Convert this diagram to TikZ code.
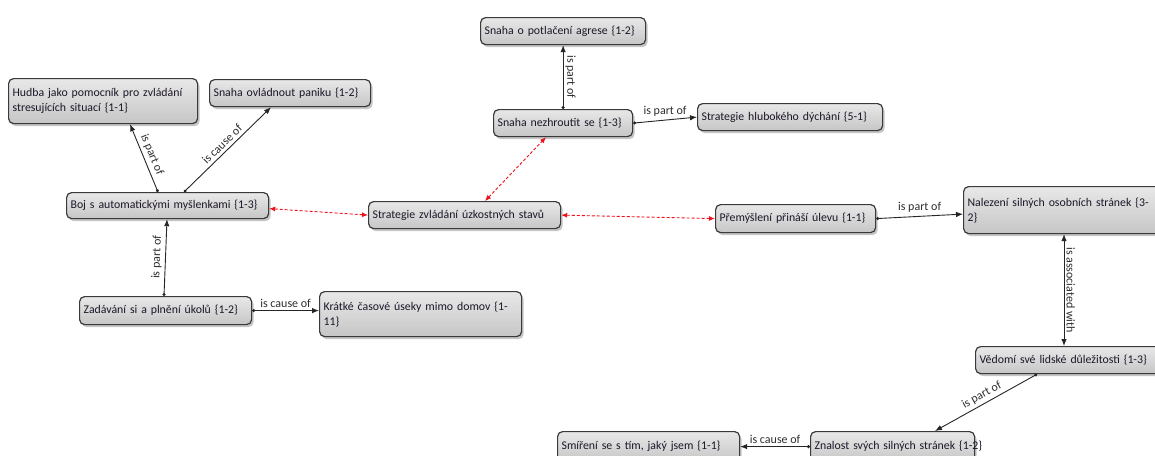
\documentclass[tikz,border=0pt]{standalone}
\usepackage{fontspec}
\setmainfont{Carlito}
\usetikzlibrary{arrows.meta,shadows,calc}
\definecolor{boxline}{HTML}{3A3A3A}
\definecolor{boxtop}{HTML}{E8E8E8}
\definecolor{boxbot}{HTML}{C6C6C6}
\definecolor{txt}{HTML}{1C1628}
\definecolor{lbl}{HTML}{2E2E2E}
\definecolor{assoc}{HTML}{F0101A}
\begin{document}
\begin{tikzpicture}[x=1pt,y=-1pt,
  concept/.style={draw=boxline, line width=1.2pt, rounded corners=5pt,
    top color=boxtop, bottom color=boxbot,
    drop shadow={opacity=0.45, shadow xshift=2pt, shadow yshift=-2.5pt},
    inner xsep=4pt, inner ysep=2pt, align=left, anchor=north west,
    font=\fontsize{11.8}{15}\selectfont, text=txt},
  link/.style={draw=black!85, line width=0.9pt,
    {Circle[length=3pt]}-{Latex[length=7pt,width=5.5pt]}},
  twoway/.style={draw=black!85, line width=0.9pt,
    {Latex[length=7pt,width=5.5pt]}-{Latex[length=7pt,width=5.5pt]}},
  assoclink/.style={draw=assoc, line width=0.9pt, dash pattern=on 3pt off 2pt,
    {Latex[length=6pt,width=5pt]}-{Latex[length=6pt,width=5pt]}},
  rel/.style={font=\fontsize{12}{14}\selectfont, text=lbl, inner sep=3pt}
]
\useasboundingbox (0,0) rectangle (1155,455);
\fill[white] (0,0) rectangle (1155,455);
\clip (0,0) rectangle (1155,455);

% concepts
\node[concept, text width=157pt, minimum height=27pt] (agrese) at (480,17) {Snaha o potlačení agrese \{1-2\}};
\node[concept, text width=181pt, minimum height=45pt] (hudba) at (8,78) {Hudba jako pomocník pro zvládání\\stresujících situací \{1-1\}};
\node[concept, text width=153pt, minimum height=27pt] (panika) at (209,79) {Snaha ovládnout paniku \{1-2\}};
\node[concept, text width=131pt, minimum height=27pt] (nezhr) at (493,109) {Snaha nezhroutit se \{1-3\}};
\node[concept, text width=177pt, minimum height=27pt] (dych) at (697,103) {Strategie hlubokého dýchání \{5-1\}};
\node[concept, text width=194pt, minimum height=26pt] (boj) at (66,192) {Boj s automatickými myšlenkami \{1-3\}};
\node[concept, text width=184pt, minimum height=27pt] (zvl) at (368,201) {Strategie zvládání úzkostných stavů};
\node[concept, text width=152pt, minimum height=28pt] (prem) at (715,204) {Přemýšlení přináší úlevu \{1-1\}};
\node[concept, text width=192pt, minimum height=47pt] (nalez) at (963,186) {Nalezení silných osobních stránek \{3-\\2\}};
\node[concept, text width=164pt, minimum height=28pt] (zad) at (79,296) {Zadávání si a plnění úkolů \{1-2\}};
\node[concept, text width=194pt, minimum height=45pt] (kratke) at (319,291) {Krátké časové úseky mimo domov \{1-\\11\}};
\node[concept, text width=190pt, minimum height=27pt] (vedomi) at (975,346) {Vědomí své lidské důležitosti \{1-3\}};
\node[concept, text width=156pt, minimum height=30pt] (znalost) at (810,431) {\mbox{Znalost svých silných stránek \{1-2\}}};
\node[concept, text width=174pt, minimum height=30pt] (smireni) at (557,431) {Smíření se s tím, jaký jsem \{1-1\}};

% labelled links
\draw[link] ([xshift=92pt]boj.north west) -- node[rel, sloped, above] {is part of} ([xshift=122pt]hudba.south west);
\draw[link] ([xshift=118pt]boj.north west) -- node[rel, sloped, above] {is cause of} ([xshift=62pt]panika.south west);
\draw[link] ([xshift=85pt]zad.north west) -- node[rel, sloped, above] {is part of} ([xshift=101pt]boj.south west);
\draw[link] (zad.east) -- node[rel, above] {is cause of} (zad.east -| kratke.west);
\draw[link] (nezhr.north) -- node[rel, rotate=-90, anchor=south, inner sep=2pt] {is part of} (agrese.south);
\draw[link] (nezhr.east) -- node[rel, above] {is part of} (dych.west);
\draw[link] (prem.east) -- node[rel, above] {is part of} ([yshift=-4pt]nalez.west);
\draw[twoway] ([xshift=101pt]nalez.south west) -- node[rel, rotate=-90, anchor=south, inner sep=2pt] {is associated with} ([xshift=89pt]vedomi.north west);
\draw[link] ([xshift=62pt]vedomi.south west) -- node[rel, sloped, above] {is part of} ([xshift=125pt]znalost.north west);
\draw[link] (znalost.west) -- node[rel, above] {is cause of} (smireni.east);

% associations of the central concept
\draw[assoclink] ([xshift=117pt]zvl.north west) -- ([xshift=53pt]nezhr.south west);
\draw[assoclink] ([yshift=-3pt]boj.east) -- (zvl.west);
\draw[assoclink] (zvl.east) -- (prem.west);
\end{tikzpicture}
\end{document}
